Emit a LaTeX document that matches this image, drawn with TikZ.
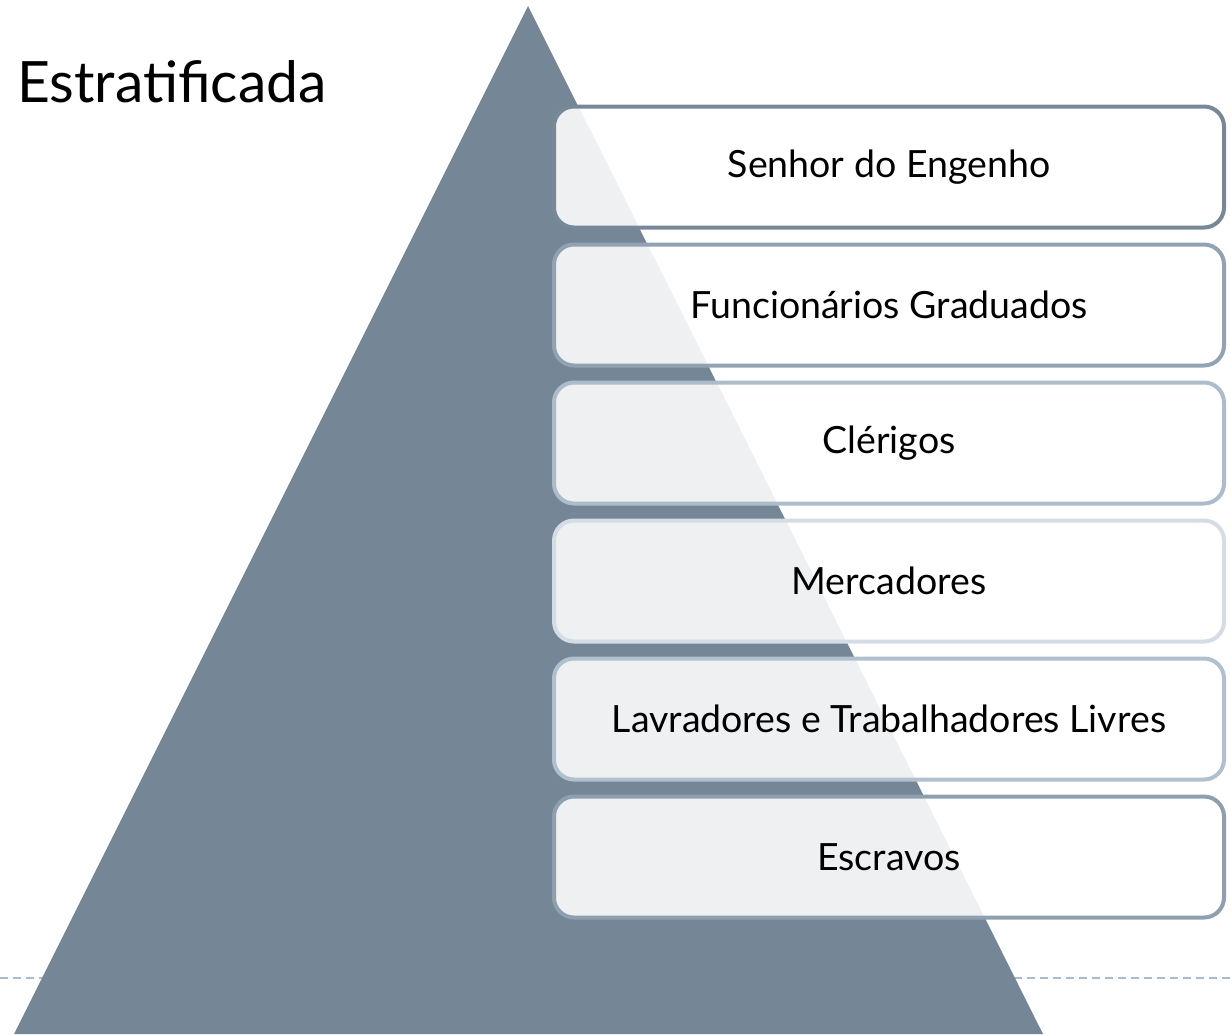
\documentclass[tikz,border=0pt]{standalone}
\usepackage{fontspec}
\setmainfont{Lato}
\usetikzlibrary{positioning}

\definecolor{slate}{HTML}{758696}
\definecolor{dashblue}{HTML}{A8BCCE}
\definecolor{rim1}{HTML}{778899}
\definecolor{rim2}{HTML}{91A3B3}
\definecolor{rim3}{HTML}{ACBCCA}
\definecolor{rim4}{HTML}{D4DDE5}
\definecolor{rim5}{HTML}{B0C0CE}
\definecolor{rim6}{HTML}{8EA0B0}

\tikzset{layer/.style={rectangle, rounded corners=20pt, line width=4pt, fill=white, fill opacity=0.88, text opacity=1,
    minimum width=670pt, minimum height=121pt, inner sep=0pt, font=\fontsize{37.5}{42}\selectfont}}

\begin{document}
\begin{tikzpicture}[x=1pt, y=-1pt, node distance=13pt]
    \useasboundingbox (0,0) rectangle (1230,1034);

    \draw[dashblue, line width=2pt, dash pattern=on 8pt off 5pt] (0,978) -- (1230,978);
    \fill[slate] (528,6) -- (1043,1034) -- (14,1034) -- cycle;

    \node[anchor=base west, inner sep=0pt, font=\fontsize{57}{62}\selectfont] (title) at (17,102) {Estratificada};

    \node[layer, draw=rim1] (senhor) at (889,167) {Senhor do Engenho};
    \node[layer, draw=rim2] (func) [below=of senhor] {Funcionários Graduados};
    \node[layer, draw=rim3] (clerigos) [below=of func] {Clérigos};
    \node[layer, draw=rim4] (merc) [below=of clerigos] {Mercadores};
    \node[layer, draw=rim5] (lavr) [below=of merc] {Lavradores e Trabalhadores Livres};
    \node[layer, draw=rim6] (escr) [below=of lavr] {Escravos};
\end{tikzpicture}
\end{document}
